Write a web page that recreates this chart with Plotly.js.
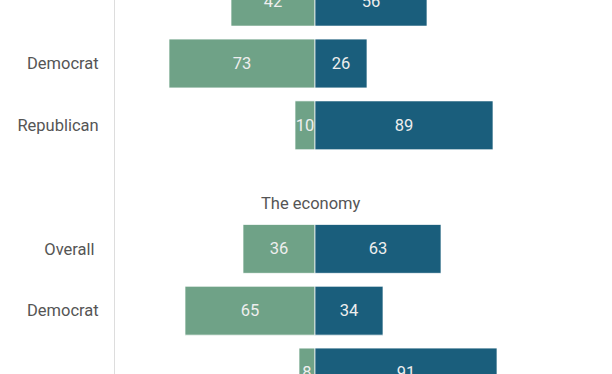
<!DOCTYPE html>
<html>
<head>
<meta charset="utf-8">
<script src="https://cdn.plot.ly/plotly-3.0.1.min.js"></script>
<style>html,body{margin:0;padding:0;background:#fff;}#chart{width:612px;height:374px;}</style>
</head>
<body>
<div id="chart"></div>
<script>
// Row labels and their slot positions (a blank slot separates the two groups)
const rowLabels = ["Overall\u00a0", "Democrat", "Republican", "Overall\u00a0", "Democrat", "Republican"];
const rowSlots = [0, 1, 2, 4, 5, 6];
const groupTitle = "The economy";
const groupTitleSlot = 3.27;
// Left (green) and right (blue) shares
const greenValues = [42, 73, 10, 36, 65, 8];
const blueValues = [56, 26, 89, 63, 34, 91];

const green = "#6fa287";
const blue = "#1a5e7c";

const common = {
  type: "bar",
  orientation: "h",
  y: rowSlots,
  width: 0.79,
  textposition: "inside",
  insidetextanchor: "middle",
  textangle: 0,
  constraintext: "none",
  cliponaxis: false,
  textfont: {family: "Roboto", size: 16.5, color: "#eeeeee"},
  hoverinfo: "skip",
  showlegend: false
};

const traces = [
  Object.assign({}, common, {
    x: greenValues.map(v => -v),
    text: greenValues.map(String),
    marker: {color: green, line: {color: "rgba(255,255,255,0.7)", width: 1}}
  }),
  Object.assign({}, common, {
    x: blueValues,
    text: blueValues.map(String),
    marker: {color: blue, line: {color: "rgba(255,255,255,0.7)", width: 1}}
  })
];

const layout = {
  width: 612,
  height: 374,
  margin: {l: 115, r: 0, t: 0, b: 0, pad: 0},
  paper_bgcolor: "#ffffff",
  plot_bgcolor: "#ffffff",
  barmode: "relative",
  font: {family: "Roboto", size: 16.5, color: "#555555"},
  xaxis: {
    range: [-100, 148.5],
    visible: false,
    showgrid: false,
    zeroline: false,
    fixedrange: true
  },
  yaxis: {
    range: [6.024, -0.0275],
    tickvals: rowSlots,
    ticktext: rowLabels,
    showgrid: false,
    zeroline: false,
    showline: true,
    linecolor: "#dddddd",
    linewidth: 1,
    ticks: "outside",
    ticklen: 12,
    tickcolor: "rgba(0,0,0,0)",
    tickfont: {family: "Roboto", size: 16.5, color: "#555555"},
    fixedrange: true
  },
  annotations: [{
    x: -2,
    y: groupTitleSlot,
    xref: "x",
    yref: "y",
    text: groupTitle,
    showarrow: false,
    xanchor: "center",
    yanchor: "middle",
    font: {family: "Roboto", size: 16.5, color: "#555555"}
  }]
};

Plotly.newPlot("chart", traces, layout, {displayModeBar: false, staticPlot: true});
</script>
</body>
</html>
